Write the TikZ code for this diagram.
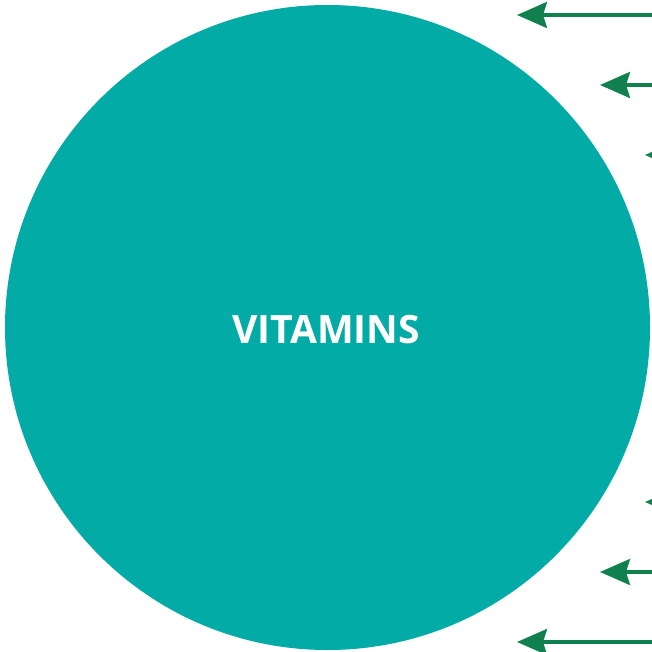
\documentclass[tikz,border=0pt]{standalone}
\usepackage{fontspec}
\setmainfont{Open Sans}
\usetikzlibrary{arrows.meta,positioning}
\definecolor{vitteal}{HTML}{02ABA6}
\definecolor{arrowgreen}{HTML}{10804E}

\begin{document}
\begin{tikzpicture}[x=1pt, y=-1pt,
  feed/.style = {draw = arrowgreen, line width = 3.4pt, -{Stealth[length = 30pt, width = 26pt, inset = 4pt]}}]
\clip (0,0) rectangle (652,652);
\useasboundingbox (0,0) rectangle (652,652);
\node[fill = vitteal, shape = circle, minimum size = 645pt, inner sep = 0pt] (vit) at (327.5,327.5) {};
\node[text = white, font = \fontsize{39}{39}\selectfont\bfseries] (vitlabel) at (326,330) {VITAMINS};
% arrows coming in from the right
\foreach \i/\y/\tip in {1/15/517, 2/85/600, 3/155/645, 4/502/645, 5/572/600, 6/642/517} {
  \coordinate (src\i) at (680,\y);
  \coordinate (tip\i) at (\tip,\y);
  \draw[feed] (src\i) -- (tip\i);
}
\end{tikzpicture}
\end{document}
